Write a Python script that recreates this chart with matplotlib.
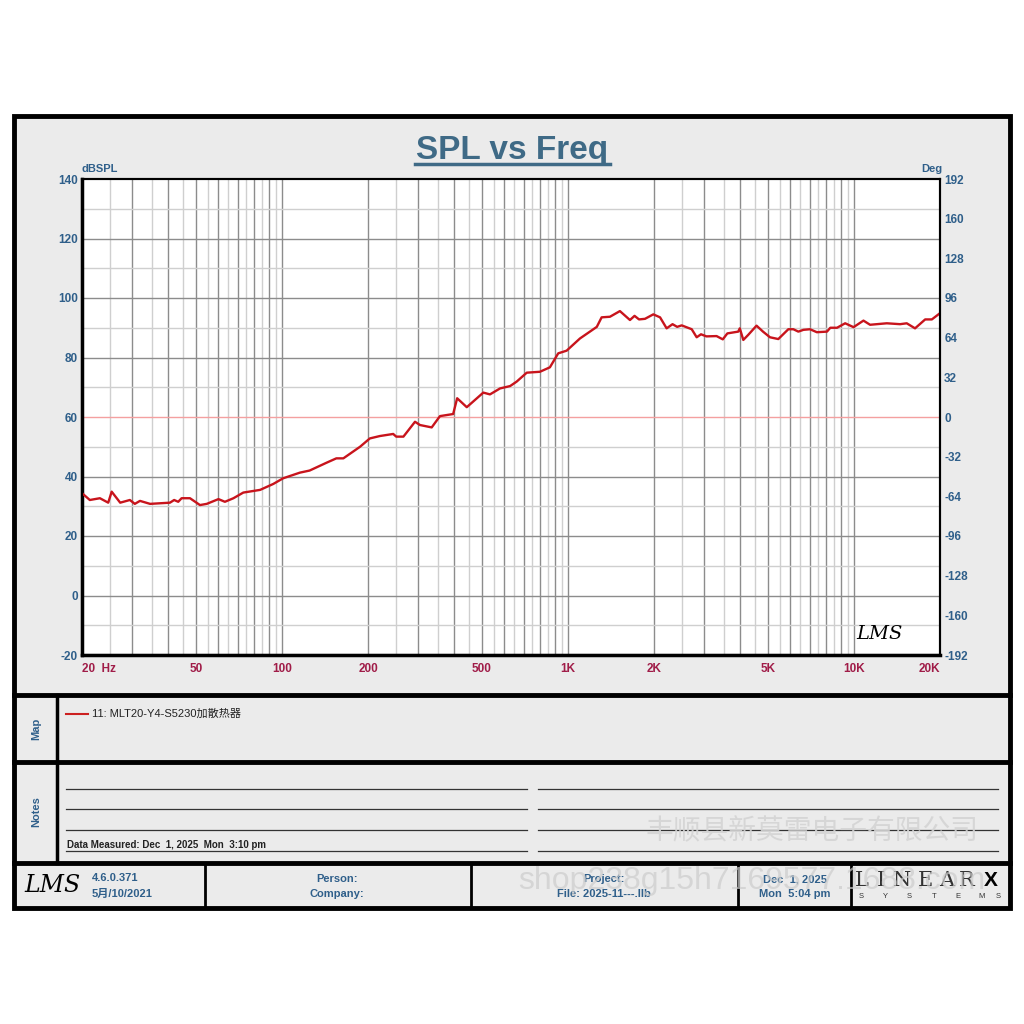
import numpy as np
import matplotlib.pyplot as plt
from matplotlib.patches import Rectangle

# SPL curve (Hz, dBSPL)
freq = [20, 21.3, 23.1, 24.7, 25.4, 27.2, 29.4, 30.6, 31.9, 34.6, 40.6, 42.0, 43.4,
        44.6, 47.7, 51.7, 54.6, 60.0, 63.2, 67.7, 73.3, 83.9, 93.3, 101, 115.6, 125,
        143, 155, 164, 187.6, 203, 220, 245, 251, 266, 292, 304, 334, 357, 397, 410,
        443, 506, 534, 579, 628, 662, 718, 798, 865, 925, 990, 1102, 1194, 1262, 1312,
        1403, 1520, 1648, 1710, 1773, 1860, 1989, 2100, 2214, 2322, 2410, 2500, 2710,
        2820, 2920, 3050, 3310, 3480, 3610, 3940, 3990, 4105, 4270, 4566, 4810, 5088,
        5441, 5898, 6140, 6394, 6660, 7025, 7420, 8050, 8270, 8730, 9320, 9970, 10800,
        11390, 13030, 14500, 15300, 16360, 17750, 18730, 20000]
spl = [34.4, 32.1, 32.7, 31.2, 34.9, 31.2, 32.1, 30.8, 31.8, 30.8, 31.2, 32.1, 31.5,
       32.7, 32.7, 30.4, 30.8, 32.4, 31.5, 32.7, 34.6, 35.5, 37.5, 39.4, 41.3, 42.0,
       44.6, 46.1, 46.1, 50.0, 52.8, 53.6, 54.3, 53.4, 53.4, 58.4, 57.3, 56.5, 60.3,
       61.0, 66.3, 63.3, 68.2, 67.6, 69.6, 70.4, 71.9, 74.9, 75.2, 76.7, 81.4, 82.3,
       86.4, 88.7, 90.3, 93.5, 93.7, 95.6, 92.6, 94.0, 92.8, 93.0, 94.5, 93.5, 89.8,
       91.2, 90.3, 90.8, 89.5, 86.8, 87.8, 87.1, 87.2, 86.1, 88.1, 88.7, 89.8, 85.9,
       87.6, 90.7, 88.7, 86.8, 86.2, 89.5, 89.5, 88.7, 89.3, 89.5, 88.5, 88.7, 90.0,
       90.0, 91.5, 90.2, 92.4, 91.0, 91.5, 91.2, 91.5, 89.8, 92.8, 92.8, 94.9]

x_ticks = [20, 50, 100, 200, 500, 1000, 2000, 5000, 10000, 20000]
x_labels = ['20  Hz', '50', '100', '200', '500', '1K', '2K', '5K', '10K', '20K']
left_ticks = [140, 120, 100, 80, 60, 40, 20, 0, -20]
right_ticks = [192, 160, 128, 96, 64, 32, 0, -32, -64, -96, -128, -160, -192]
legend_label = '11: MLT20-Y4-S5230加散热器'

BG = '#ebebeb'
BLUE = '#2f5f8a'
MAROON = '#a01c48'
TITLE = '#3f6a86'
FONT = ['Liberation Sans', 'Noto Sans CJK SC', 'DejaVu Sans']
plt.rcParams['font.family'] = FONT
plt.rcParams['axes.unicode_minus'] = False

fig = plt.figure(figsize=(10.24, 10.24), dpi=100)
fig.patch.set_facecolor('white')

# overlay in pixel coordinates for the report frame
ov = fig.add_axes([0, 0, 1, 1])
ov.set_xlim(0, 1024)
ov.set_ylim(1024, 0)
ov.axis('off')

ov.add_patch(Rectangle((14, 116), 996, 792, facecolor=BG, edgecolor='black', lw=3.5))
for yy in [695, 762, 863]:
    ov.plot([14, 1010], [yy, yy], color='black', lw=3.5)
ov.plot([57, 57], [695, 863], color='black', lw=2.5)
for xx in [205, 471, 738, 851]:
    ov.plot([xx, xx], [863, 908], color='black', lw=2)

# title
ov.text(512, 150, 'SPL vs Freq', ha='center', va='center', fontsize=24,
        fontweight='bold', color=TITLE)
ov.plot([415, 610], [164, 164], color=TITLE, lw=2.5)
ov.text(82, 169, 'dBSPL', ha='left', va='center', fontsize=8, fontweight='bold', color=BLUE)
ov.text(942, 169, 'Deg', ha='right', va='center', fontsize=8, fontweight='bold', color=BLUE)

# map panel
ov.text(36, 729, 'Map', rotation=90, ha='center', va='center', fontsize=8,
        fontweight='bold', color=BLUE)
ov.plot([66, 88], [714, 714], color='#cc2020', lw=1.5)
ov.text(92, 714, legend_label, ha='left', va='center', fontsize=8, color='#222222',
        family=FONT)

# notes panel
ov.text(36, 812, 'Notes', rotation=90, ha='center', va='center', fontsize=8,
        fontweight='bold', color=BLUE)
for yy in [789, 809, 830, 851]:
    ov.plot([66, 527], [yy, yy], color='#333333', lw=0.9)
    ov.plot([538, 998], [yy, yy], color='#333333', lw=0.9)
ov.text(67, 845, 'Data Measured: Dec  1, 2025  Mon  3:10 pm', ha='left', va='center',
        fontsize=7, fontweight='bold', color='#222222')
ov.text(812, 832, '丰顺县新莫雷电子有限公司', ha='center', va='center', fontsize=20,
        color='#d4d4d4', family=FONT, alpha=0.9)

# footer
ov.text(52, 886, 'LMS', ha='center', va='center', fontsize=17, style='italic',
        family='DejaVu Serif', color='black')
ov.text(92, 878, '4.6.0.371', ha='left', va='center', fontsize=8, fontweight='bold', color=BLUE)
ov.text(92, 894, '5月/10/2021', ha='left', va='center', fontsize=8, fontweight='bold',
        color=BLUE, family=FONT)
ov.text(337, 879, 'Person:', ha='center', va='center', fontsize=8, fontweight='bold', color=BLUE)
ov.text(337, 894, 'Company:', ha='center', va='center', fontsize=8, fontweight='bold', color=BLUE)
ov.text(604, 879, 'Project:', ha='center', va='center', fontsize=8, fontweight='bold', color=BLUE)
ov.text(604, 894, 'File: 2025-11---.llb', ha='center', va='center', fontsize=8,
        fontweight='bold', color=BLUE)
ov.text(795, 879, 'Dec  1, 2025', ha='center', va='center', fontsize=8, fontweight='bold', color=BLUE)
ov.text(795, 894, 'Mon  5:04 pm', ha='center', va='center', fontsize=8, fontweight='bold', color=BLUE)

# LinearX logo, letters spread across the last footer cell
for ch, xx in zip('LINEAR', [862, 881, 902, 925, 947, 967]):
    ov.text(xx, 881, ch, ha='center', va='center', fontsize=15,
            family='DejaVu Serif', color='#333333')
ov.text(991, 881, 'X', ha='center', va='center', fontsize=15, fontweight='bold', color='black')
for ch, xx in zip('SYSTEMS', [861, 885, 909, 934, 958, 982, 998]):
    ov.text(xx, 897, ch, ha='center', va='center', fontsize=5.5, color='#333333')

ov.text(752, 881, 'shop238g15h7169577.1688.com', ha='center', va='center', fontsize=23,
        color='#cccccc', alpha=0.7)

# plot area
ax = fig.add_axes([82 / 1024, 1 - 655 / 1024, 858 / 1024, 476 / 1024])
ax.set_facecolor('white')
ax.set_xscale('log')
ax.set_xlim(20, 20000)
ax.set_ylim(-20, 140)

for dec in [10, 100, 1000]:
    for m in range(2, 11):
        f = m * dec
        if 20 < f < 20000:
            ax.axvline(f, color='#8c8c8c', lw=1.0, zorder=1)
    for m in np.arange(2.5, 10, 1.0):
        f = m * dec
        if 20 < f < 20000:
            ax.axvline(f, color='#cfcfcf', lw=1.0, zorder=1)
for yv in range(-10, 140, 10):
    if yv == 60:
        continue
    ax.axhline(yv, color='#8c8c8c' if yv % 20 == 0 else '#cfcfcf', lw=1.0, zorder=1)
ax.axhline(60, color='#f4a0a0', lw=1.0, zorder=2)

ax.plot(freq, spl, color='#c8141c', lw=1.7, zorder=3)

ax.set_xticks(x_ticks)
ax.set_xticklabels(x_labels)
ax.minorticks_off()
ax.set_yticks(left_ticks)
ax.tick_params(axis='x', length=0, pad=6, labelsize=8.5, labelcolor=MAROON)
ax.tick_params(axis='y', length=0, pad=3, labelsize=8.5, labelcolor=BLUE)
for lab in ax.get_xticklabels() + ax.get_yticklabels():
    lab.set_fontweight('bold')
ax.get_xticklabels()[0].set_horizontalalignment('left')
ax.get_xticklabels()[-1].set_horizontalalignment('right')

ax2 = ax.twinx()
ax2.set_ylim(-192, 192)
ax2.set_yticks(right_ticks)
ax2.tick_params(axis='y', length=0, pad=3, labelsize=8.5, labelcolor=BLUE)
for lab in ax2.get_yticklabels():
    lab.set_fontweight('bold')

for a in (ax, ax2):
    for s in a.spines.values():
        s.set_color('black')
        s.set_linewidth(1.5)
ax.spines['left'].set_linewidth(2.5)
ax.spines['bottom'].set_linewidth(2.5)

ax.text(0.93, 0.045, 'LMS', transform=ax.transAxes, ha='center', va='center',
        fontsize=14, style='italic', family='DejaVu Serif', color='black')

fig.savefig('out.png', dpi=100, facecolor='white')
